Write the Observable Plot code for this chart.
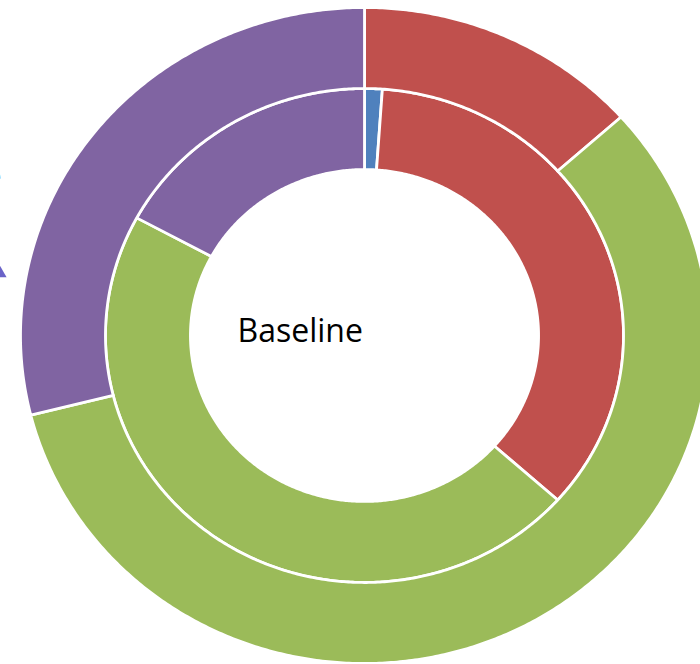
<!DOCTYPE html>
<html>
<head>
<meta charset="utf-8">
<script src="https://cdn.jsdelivr.net/npm/d3@7"></script>
<script src="https://cdn.jsdelivr.net/npm/@observablehq/plot@0.6"></script>
<style>
  html, body { margin: 0; padding: 0; background: #fff; overflow: hidden; }
  #chart svg { display: block; }
</style>
</head>
<body>
<div id="chart"></div>
<script>
// Two-ring doughnut: inner ring is the first series, outer ring the second.
const categories = ["Category 1", "Category 2", "Category 3", "Category 4"];
const colors = ["#4F81BD", "#C0504D", "#9BBB59", "#8064A2"];
const innerSeries = [1.1, 35.5, 46.3, 17.1];
const outerSeries = [0, 13.4, 57.7, 28.9];
const centerLabel = ["Baseline"];

// Ring geometry in unit space (outer edge = 1)
const HOLE = 0.506, MID = 0.753, OUTER = 1;

function ringSlices(values, r0, r1, ring) {
  const arcs = d3.pie().sort(null).value(d => d)(values);
  const rows = [];
  arcs.forEach((a, i) => {
    const span = a.endAngle - a.startAngle;
    if (span <= 0) return;
    const n = Math.max(2, Math.ceil(span / (Math.PI / 360)));
    const pts = [];
    for (let k = 0; k <= n; k++) {
      const t = a.startAngle + span * k / n;
      pts.push([r1 * Math.sin(t), r1 * Math.cos(t)]);
    }
    for (let k = n; k >= 0; k--) {
      const t = a.startAngle + span * k / n;
      pts.push([r0 * Math.sin(t), r0 * Math.cos(t)]);
    }
    pts.push(pts[0]);
    for (const [x, y] of pts) rows.push({x, y, slice: `${ring}-${i}`, category: categories[i]});
  });
  return rows;
}

const rows = [
  ...ringSlices(innerSeries, HOLE, MID, "inner"),
  ...ringSlices(outerSeries, MID, OUTER, "outer")
];

// The chart area is wider than tall, so the rings come out slightly elliptical
const W = 700, H = 664;
const cx = 364, cy = 335, rx = 344, ry = 328;

const chart = Plot.plot({
  width: W,
  height: H,
  margin: 0,
  x: {domain: [-cx / rx, (W - cx) / rx], axis: null},
  y: {domain: [(cy - H) / ry, cy / ry], axis: null},
  color: {domain: categories, range: colors},
  marks: [
    Plot.line(rows, {
      x: "x", y: "y", z: "slice", fill: "category",
      stroke: "white", strokeWidth: 2.8, strokeLinejoin: "round"
    }),
    Plot.text(centerLabel, {
      x: () => 0, y: () => 0, text: d => d,
      textAnchor: "start", dx: -127, dy: -4,
      fontFamily: "'Open Sans', sans-serif", fontSize: 32, fill: "#000"
    }),
    // partially visible callout at the left edge
    Plot.text(["e"], {
      frameAnchor: "left", text: d => d, textAnchor: "end", dx: 1, dy: -155,
      fontFamily: "'Open Sans', sans-serif", fontSize: 28, fill: "#222"
    }),
    Plot.dot([0], {
      frameAnchor: "left", dx: -2, dy: -60, symbol: "triangle", r: 6,
      fill: "#6a63c8", stroke: "none"
    })
  ]
});

document.getElementById("chart").append(chart);
</script>
</body>
</html>
